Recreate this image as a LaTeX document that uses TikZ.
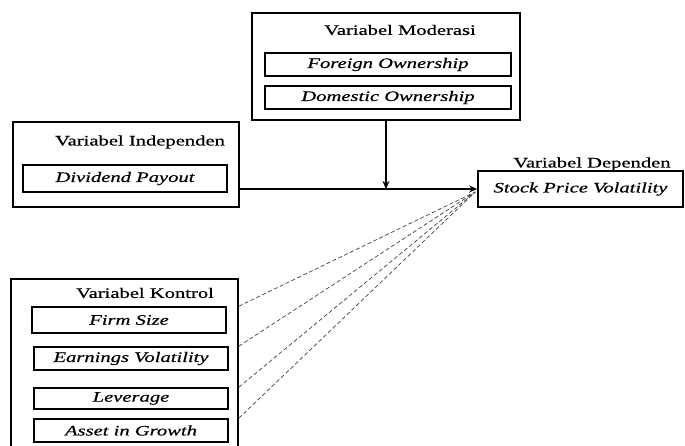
\documentclass[tikz,border=0pt]{standalone}
\usepackage{fontspec}
\setmainfont{Liberation Serif}[FakeStretch=1.42,FakeBold=0.5]
\usepackage{tikz}
\usetikzlibrary{
    arrows.meta,
    positioning,
    calc
}
\tikzset{
    outerbox/.style={
        draw,
        line width=1.6pt,
        inner sep=0pt
    },
    varbox/.style={
        draw,
        line width=1.6pt,
        inner sep=0pt,
        font=\fontsize{14.5}{16}\selectfont\itshape
    },
    vartitle/.style={
        inner sep=0pt,
        font=\fontsize{14.5}{16}\selectfont
    },
    mainarrow/.style={
        -{Stealth[length=8pt,width=7pt]},
        line width=2.1pt
    },
    ctrlline/.style={
        dashed,
        dash pattern=on 4pt off 2.5pt,
        line width=0.7pt,
        black!75
    }
}
\begin{document}
\begin{tikzpicture}[x=1pt,y=-1pt]
    \useasboundingbox (0,0) rectangle (685,446);
%
    % Moderasi
%
    \node[
        outerbox,
        minimum width=268pt,
        minimum height=107pt
    ]
    (mod-box) at (386,66.5) {};
    \node[vartitle] (mod-title) at (400,30) {Variabel Moderasi};
    \node[
        varbox,
        minimum width=246pt,
        minimum height=23pt
    ]
    (foreign-box) at (388,64.5) {Foreign Ownership};
    \node[
        varbox,
        minimum width=246pt,
        minimum height=23pt
    ]
    (domestic-box) at (388,97.5) {Domestic Ownership};
%
    % Independen
%
    \node[
        outerbox,
        minimum width=226pt,
        minimum height=85pt
    ]
    (indep-box) at (126,164.5) {};
    \node[vartitle] (indep-title) at (140,142) {Variabel Independen};
    \node[
        varbox,
        minimum width=204pt,
        minimum height=27pt
    ]
    (dividend-box) at (125,178.5) {Dividend Payout};
%
    % Dependen
%
    \node[
        outerbox,
        minimum width=205pt,
        minimum height=36pt,
        font=\fontsize{14.5}{16}\selectfont\itshape
    ]
    (dep-box) at (580.5,189) {Stock Price Volatility};
    \node[vartitle] (dep-title) at (592,164) {Variabel Dependen};
%
    % Kontrol
%
    \node[
        outerbox,
        minimum width=227pt,
        minimum height=190pt
    ]
    (kontrol-box) at (124.5,374) {};
    \node[vartitle] (kontrol-title) at (145,293) {Variabel Kontrol};
    \node[
        varbox,
        minimum width=194pt,
        minimum height=26pt
    ]
    (firm-box) at (129,320) {Firm Size};
    \node[
        varbox,
        minimum width=194pt,
        minimum height=23pt
    ]
    (earnings-box) at (131,358.5) {Earnings Volatility};
    \node[
        varbox,
        minimum width=194pt,
        minimum height=21pt
    ]
    (leverage-box) at (131,398.5) {Leverage};
    \node[
        varbox,
        minimum width=194pt,
        minimum height=23pt
    ]
    (asset-box) at (131,430.5) {Asset in Growth};
%
    % Connectors
%
    \coordinate (meet) at (mod-box.south |- dep-box.west);
    \coordinate (ctrl-in) at ($(dep-box.west)+(-2,3)$);
    \draw[line width=2.1pt] (indep-box.east |- dep-box.west) -- (meet);
    \draw[mainarrow] (meet) -- (dep-box.west);
    \draw[mainarrow] (mod-box.south) -- (meet);
    \draw[ctrlline] (kontrol-box.east |- firm-box.north) -- (ctrl-in);
    \draw[ctrlline] (kontrol-box.east |- earnings-box.north) -- (ctrl-in);
    \draw[ctrlline] (kontrol-box.east |- leverage-box.north) -- (ctrl-in);
    \draw[ctrlline] (kontrol-box.east |- asset-box.north) -- (ctrl-in);
%
\end{tikzpicture}
\end{document}
